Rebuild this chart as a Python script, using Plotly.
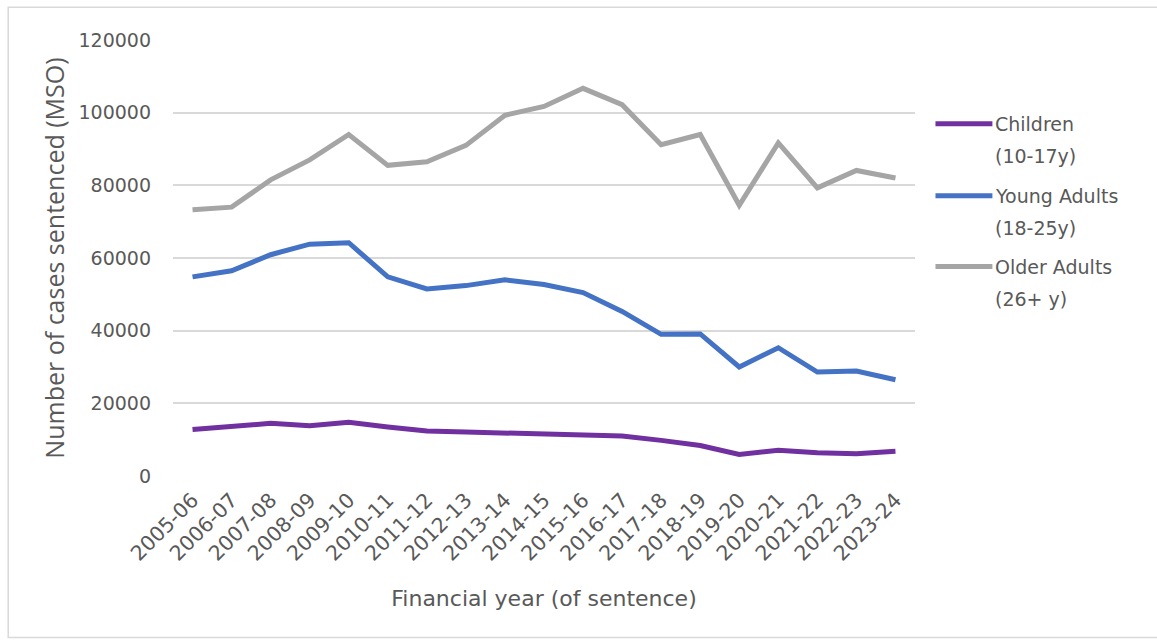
import plotly.graph_objects as go

years = ["2005-06", "2006-07", "2007-08", "2008-09", "2009-10", "2010-11", "2011-12",
         "2012-13", "2013-14", "2014-15", "2015-16", "2016-17", "2017-18", "2018-19",
         "2019-20", "2020-21", "2021-22", "2022-23", "2023-24"]
children = [12800, 13500, 14500, 13800, 14800, 13500, 12400, 12100, 11800, 11400,
            11200, 11000, 9800, 8400, 5900, 7100, 6400, 6100, 6800]
young_adults = [54800, 56500, 60900, 63800, 64200, 54800, 51500, 52400, 54000, 52700,
                50500, 45300, 39000, 39100, 30000, 35300, 28600, 28900, 26500]
older_adults = [73300, 74000, 81500, 87000, 94000, 85500, 86500, 91000, 99300, 101700,
                106700, 102200, 91200, 94000, 74500, 91700, 79300, 84100, 82000]

series_names = [["Children", "(10-17y)"], ["Young Adults", "(18-25y)"], ["Older Adults", "(26+ y)"]]
series_values = [children, young_adults, older_adults]
colors = ["#7030A0", "#4472C4", "#A5A5A5"]

W, H = 1157, 641
L, R, T, B = 172.5, 915.5, 40.3, 476.5

def px(xp):
    return (xp - L) / (R - L)

def py(yp):
    return (B - yp) / (B - T)

TEXT = "#595959"
FONT = "DejaVu Sans"

fig = go.Figure()
for name, vals, col in zip(series_names, series_values, colors):
    fig.add_trace(go.Scatter(x=years, y=vals, mode="lines", name=" ".join(name),
                             line=dict(color=col, width=5), showlegend=False))

shapes = [dict(type="rect", xref="paper", yref="paper", x0=px(7.5), x1=px(1162), y0=py(638), y1=py(7.5),
               line=dict(color="#D9D9D9", width=1.5), fillcolor="rgba(0,0,0,0)", layer="below")]
annotations = []
leg_y = [124, 196, 267]
for (l1, l2), col, yy in zip(series_names, colors, leg_y):
    shapes.append(dict(type="line", xref="paper", yref="paper", x0=px(936), x1=px(993),
                       y0=py(yy), y1=py(yy), line=dict(color=col, width=5)))
    annotations.append(dict(xref="paper", yref="paper", x=px(994), y=py(yy), text=l1,
                            xanchor="left", yanchor="middle", showarrow=False,
                            font=dict(family=FONT, size=19, color=TEXT)))
    annotations.append(dict(xref="paper", yref="paper", x=px(994), y=py(yy + 32), text=l2,
                            xanchor="left", yanchor="middle", showarrow=False,
                            font=dict(family=FONT, size=19, color=TEXT)))

fig.update_layout(
    width=W, height=H,
    margin=dict(l=L, r=W - R, t=T, b=H - B),
    paper_bgcolor="white", plot_bgcolor="white",
    shapes=shapes, annotations=annotations,
    xaxis=dict(type="category", range=[-0.5, 18.5], showgrid=False, showline=False, zeroline=False,
               tickangle=-45, tickfont=dict(family=FONT, size=20.5, color=TEXT),
               ticks="", ticklabelstandoff=7,
               title=dict(text="Financial year (of sentence)", standoff=25,
                          font=dict(family=FONT, size=22, color=TEXT))),
    yaxis=dict(range=[0, 120000], dtick=20000, tickformat="d", showgrid=True, gridcolor="#D9D9D9",
               gridwidth=2, zeroline=False, showline=False, ticks="", ticklabelstandoff=21,
               tickfont=dict(family=FONT, size=19, color=TEXT),
               title=dict(text="Number of cases sentenced (MSO)", standoff=6,
                          font=dict(family="Open Sans", size=25, color=TEXT))),
)

fig.write_html("out.html")
